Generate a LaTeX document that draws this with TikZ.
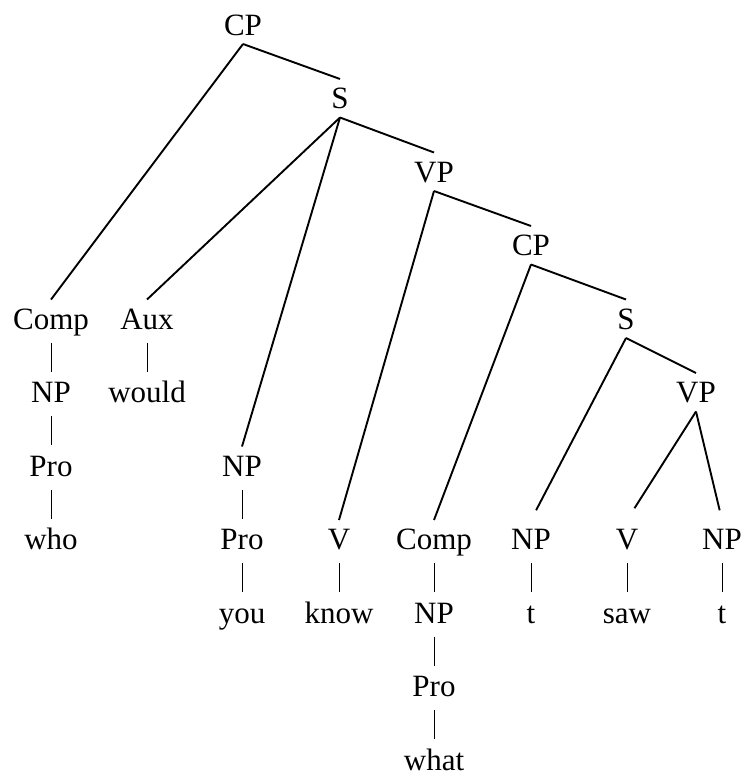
\documentclass[tikz,border=0pt]{standalone}
\usepackage{fontspec}
\setmainfont{Liberation Serif}
\usetikzlibrary{positioning}

\begin{document}
\begin{tikzpicture}[
            x=1pt, y=-1pt,
            node distance=35pt,
            cat/.style={
                    inner sep=0pt,
                    outer ysep=9pt,
                    text height=20.5pt,
                    text depth=0pt,
                    anchor=base,
                    font=\fontsize{31}{37}\selectfont
                },
            branch/.style={
                    line width=1.9pt
                },
            bar/.style={
                    line width=0.9pt,
                    shorten <=4.5pt,
                    shorten >=1.5pt
                }
        ]
        \useasboundingbox (0,0) rectangle (744,774);

        % Epine principale
        \node[cat] (cpA) at (243,35) {CP};
        \node[cat] (sA) at (340,108.5) {S};
        \node[cat] (vpA) at (434,182) {VP};
        \node[cat] (cpB) at (531,255.5) {CP};
        \node[cat] (sB) at (626,329) {S};
        \node[cat] (vpB) at (696,402.5) {VP};

        % Colonnes
        \node[cat] (compA) at (51,329) {Comp};
        \node[cat, below=of compA] (npA) {NP};
        \node[cat, below=of npA] (proA) {Pro};
        \node[cat, below=of proA] (who) {who};

        \node[cat] (aux) at (147,329) {Aux};
        \node[cat, below=of aux] (would) {would};

        \node[cat] (npB) at (242,476) {NP};
        \node[cat, below=of npB] (proB) {Pro};
        \node[cat, below=of proB] (you) {you};

        \node[cat] (vA) at (339,549.5) {V};
        \node[cat, below=of vA] (know) {know};

        \node[cat] (compB) at (434,549.5) {Comp};
        \node[cat, below=of compB] (npC) {NP};
        \node[cat, below=of npC] (proC) {Pro};
        \node[cat, below=of proC] (what) {what};

        \node[cat] (npD) at (531,549.5) {NP};
        \node[cat, below=of npD] (tA) {t};

        \node[cat] (vB) at (627,549.5) {V};
        \node[cat, below=of vB] (saw) {saw};

        \node[cat] (npE) at (722,549.5) {NP};
        \node[cat, below=of npE] (tB) {t};

        % Branches
        \draw[branch] (cpA.south) -- (compA.north);
        \draw[branch] (cpA.south) -- (sA.north);
        \draw[branch] (sA.south) -- (aux.north);
        \draw[branch] (sA.south) -- (npB.north);
        \draw[branch] (sA.south) -- (vpA.north);
        \draw[branch] (vpA.south) -- (vA.north);
        \draw[branch] (vpA.south) -- (cpB.north);
        \draw[branch] (cpB.south) -- (compB.north);
        \draw[branch] (cpB.south) -- (sB.north);
        \draw[branch, shorten >=11pt] (sB.south) -- (npD.north);
        \draw[branch] (sB.south) -- (vpB.north);
        \draw[branch, shorten >=14pt] (vpB.south) -- (vB.north);
        \draw[branch, shorten >=10pt] (vpB.south) -- (npE.north);

        % Barres verticales
        \draw[bar] (compA.south) -- (npA.north);
        \draw[bar] (npA.south) -- (proA.north);
        \draw[bar] (proA.south) -- (who.north);
        \draw[bar] (aux.south) -- (would.north);
        \draw[bar] (npB.south) -- (proB.north);
        \draw[bar] (proB.south) -- (you.north);
        \draw[bar] (vA.south) -- (know.north);
        \draw[bar] (compB.south) -- (npC.north);
        \draw[bar] (npC.south) -- (proC.north);
        \draw[bar] (proC.south) -- (what.north);
        \draw[bar] (npD.south) -- (tA.north);
        \draw[bar] (vB.south) -- (saw.north);
        \draw[bar] (npE.south) -- (tB.north);

    \end{tikzpicture}
\end{document}
